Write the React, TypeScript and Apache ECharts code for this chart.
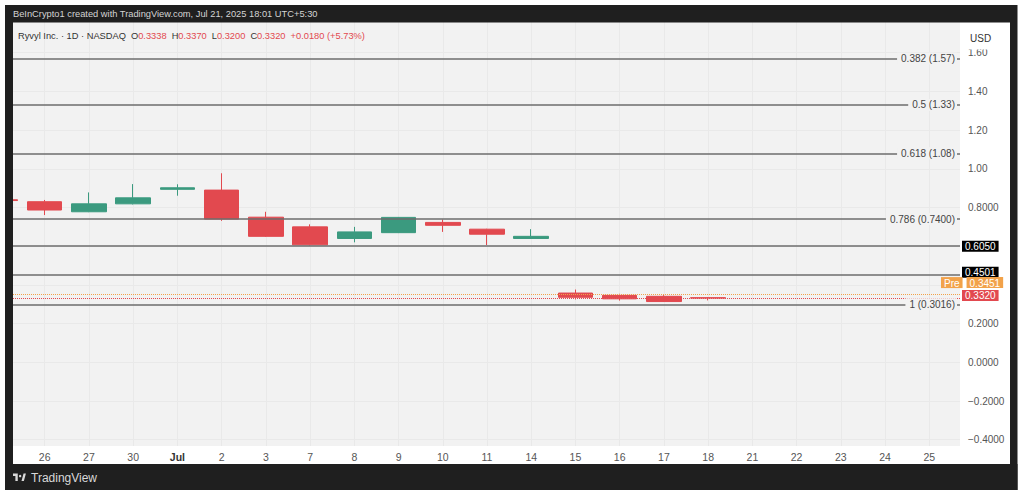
import React, { useEffect, useRef } from 'react';
import * as echarts from 'echarts';

// ---- data ----
const dates = ['2025-06-25', '2025-06-26', '2025-06-27', '2025-06-30', '2025-07-01', '2025-07-02', '2025-07-03', '2025-07-07', '2025-07-08', '2025-07-09', '2025-07-10', '2025-07-11', '2025-07-14', '2025-07-15', '2025-07-16', '2025-07-17', '2025-07-18', '2025-07-21', '2025-07-22', '2025-07-23', '2025-07-24', '2025-07-25'];
const tickLabels = ['25', '26', '27', '30', 'Jul', '2', '3', '7', '8', '9', '10', '11', '14', '15', '16', '17', '18', '21', '22', '23', '24', '25'];
const opens = [0.840, 0.830, 0.778, 0.819, 0.894, 0.890, 0.750, 0.700, 0.640, 0.670, 0.723, 0.688, 0.640, 0.358, 0.346, 0.341, 0.3338];
const closes = [0.836, 0.787, 0.819, 0.850, 0.902, 0.740, 0.651, 0.607, 0.674, 0.749, 0.708, 0.662, 0.651, 0.336, 0.328, 0.314, 0.3320];
const lows = [0.830, 0.761, 0.776, 0.816, 0.861, 0.731, 0.648, 0.604, 0.620, 0.668, 0.674, 0.606, 0.638, 0.325, 0.319, 0.312, 0.3200];
const highs = [0.845, 0.839, 0.878, 0.921, 0.920, 0.977, 0.778, 0.713, 0.700, 0.751, 0.738, 0.690, 0.688, 0.376, 0.354, 0.347, 0.3370];

const fibRatios = ['0.382', '0.5', '0.618', '0.786', '1'];
const fibPrices = [1.57, 1.33, 1.08, 0.74, 0.3016];
const fibPriceLabels = ['1.57', '1.33', '1.08', '0.7400', '0.3016'];
const levelPrices = [0.605, 0.4501];
const levelLabels = ['0.6050', '0.4501'];
const prePrice = 0.3451;
const prePriceLabel = '0.3451';
const lastPrice = 0.332;
const lastPriceLabel = '0.3320';

const yTickValues = [-0.4, -0.2, 0, 0.2, 0.4, 0.6, 0.8, 1.0, 1.2, 1.4, 1.6];
const yLabelValues = [-0.4, -0.2, 0, 0.2, 0.8, 1.0, 1.2, 1.4, 1.6];
const xTickValues = dates.map((_, i) => i).filter((i) => i > 0);

const headerText = 'BeInCrypto1 created with TradingView.com, Jul 21, 2025 18:01 UTC+5:30';
const symbolText = 'Ryvyl Inc. · 1D · NASDAQ';
const ohlc = { O: '0.3338', H: '0.3370', L: '0.3200', C: '0.3320' };
const changeText = '+0.0180 (+5.73%)';

// ---- styles ----
const FONT = '"Liberation Sans", Arial, sans-serif';
const RED = '#e2494f';
const GREEN = '#3b9a7f';
const ORANGE = '#f2a24a';
const FRAME = '#1f1f1f';
const PLOT_BG = '#f2f2f2';
const FIB_LINE = { color: '#6d6d6d', width: 1.5, type: 'solid' as const };

const logoPath = 'M0 0H14V22H7V7H0Z M21 4a3.5 3.5 0 1 1 -0.01 0Z M25 22L31 0H38L32 22Z';

function fmtPrice(v: number): string {
  const a = Math.abs(v);
  const s = a >= 1 - 1e-9 ? a.toFixed(2) : a.toFixed(4);
  return v < -1e-9 ? '\u2212' + s : s;
}

function badge(bg: string, color = '#fff') {
  return { backgroundColor: bg, color, fontSize: 10, fontFamily: FONT, padding: [1, 3, 0, 3], lineHeight: 11 };
}

let logoRegistered = false;

export default function App() {
  const ref = useRef<HTMLDivElement>(null);

  useEffect(() => {
    if (!ref.current) return;
    if (!logoRegistered) {
      echarts.graphic.registerShape('tvlogo', echarts.graphic.extendPath(logoPath, {}) as any);
      logoRegistered = true;
    }
    const chart = echarts.init(ref.current, undefined, { renderer: 'svg' });

    const candleData = opens.map((o, i) => [i, o, closes[i], lows[i], highs[i]]);

    const markData: any[] = [];
    fibPrices.forEach((p, i) => {
      markData.push({
        yAxis: p,
        lineStyle: FIB_LINE,
        label: {
          show: true,
          position: 'insideEnd',
          distance: 3,
          formatter: () => `${fibRatios[i]} (${fibPriceLabels[i]})`,
          color: '#444',
          fontSize: 10,
          fontFamily: FONT,
          backgroundColor: PLOT_BG,
          padding: [1, 2, 1, 4],
        },
      });
    });
    levelPrices.forEach((p, i) => {
      markData.push({
        yAxis: p,
        lineStyle: FIB_LINE,
        label: {
          show: true,
          position: 'end',
          distance: 2,
          formatter: () => (i === 0 ? `{b|${levelLabels[i]}}` : `{b|${levelLabels[i]}}\n{g| }`),
          rich: { b: badge('#000'), g: { height: 6, fontSize: 1 } },
        },
      });
    });
    markData.push({
      yAxis: prePrice,
      lineStyle: { color: ORANGE, width: 1, type: 'dotted' },
      label: {
        show: true,
        position: 'end',
        distance: -19,
        formatter: () => `{p|Pre}{s| }{o|${prePriceLabel}}\n{g| }`,
        rich: {
          p: { ...badge(ORANGE), padding: [1, 3, 0, 3] },
          s: { width: 4, fontSize: 1 },
          o: badge(ORANGE),
          g: { height: 24, fontSize: 1 },
        },
      },
    });
    markData.push({
      yAxis: lastPrice,
      lineStyle: { color: RED, width: 1, type: 'dotted' },
      label: {
        show: true,
        position: 'end',
        distance: 2,
        formatter: () => `{r|${lastPriceLabel}}\n{g| }`,
        rich: { r: badge(RED), g: { height: 6, fontSize: 1 } },
      },
    });

    const option: any = {
      animation: false,
      backgroundColor: '#ffffff',
      textStyle: { fontFamily: FONT },
      grid: {
        left: 13,
        top: 22,
        width: 947,
        height: 424,
        show: true,
        backgroundColor: PLOT_BG,
        borderWidth: 0,
        containLabel: false,
        outerBoundsMode: 'none',
      },
      xAxis: {
        type: 'value',
        min: 0.283,
        max: 21.694,
        axisLine: { show: false },
        axisTick: { show: false, customValues: xTickValues },
        splitLine: { show: true, lineStyle: { color: '#e9e9e9', width: 1 } },
        axisLabel: {
          customValues: xTickValues,
          margin: 5,
          color: '#555',
          fontSize: 10.5,
          fontFamily: FONT,
          formatter: (v: number) => {
            const t = tickLabels[Math.round(v)] ?? '';
            return t === 'Jul' ? `{j|${t}}` : t;
          },
          rich: { j: { fontWeight: 'bold', color: '#333', fontSize: 10.5, fontFamily: FONT } },
        },
      },
      yAxis: {
        type: 'value',
        position: 'right',
        min: -0.4325,
        max: 1.7587,
        axisLine: { show: false },
        axisTick: { show: false, customValues: yTickValues },
        splitLine: { show: true, lineStyle: { color: '#e9e9e9', width: 1 } },
        axisLabel: {
          customValues: yLabelValues,
          margin: 8,
          color: '#555',
          fontSize: 10,
          fontFamily: FONT,
          formatter: (v: number) => fmtPrice(v),
        },
      },
      series: [
        {
          type: 'candlestick',
          clip: true,
          barWidth: 35,
          encode: { x: 0, y: [1, 2, 3, 4] },
          data: candleData,
          itemStyle: {
            color: GREEN,
            color0: RED,
            borderColor: GREEN,
            borderColor0: RED,
            borderWidth: 1,
          },
          markLine: {
            silent: true,
            symbol: ['none', 'none'],
            animation: false,
            data: markData,
          },
        },
      ],
      graphic: [
        { type: 'rect', z: 100, shape: { x: 0, y: 0, width: 5, height: 498 }, style: { fill: '#ffffff' } },
        { type: 'rect', z: 100, shape: { x: 5, y: 5, width: 1012, height: 17.5 }, style: { fill: FRAME } },
        { type: 'rect', z: 100, shape: { x: 5, y: 5, width: 8, height: 485 }, style: { fill: FRAME } },
        { type: 'rect', z: 100, shape: { x: 1010, y: 5, width: 7.5, height: 485 }, style: { fill: FRAME } },
        { type: 'rect', z: 100, shape: { x: 5, y: 464, width: 1012.5, height: 26 }, style: { fill: FRAME } },
        {
          type: 'text', z: 101, x: 13, y: 14,
          style: { text: headerText, fill: '#d4d4d4', font: `9.3px ${FONT}`, verticalAlign: 'middle' },
        },
        {
          type: 'text', z: 101, x: 18, y: 36,
          style: {
            text: `{n|${symbolText}}{s| }{k|O}{v|${ohlc.O}}{s| }{k|H}{v|${ohlc.H}}{s| }{k|L}{v|${ohlc.L}}{s| }{k|C}{v|${ohlc.C}}{s| }{v|${changeText}}`,
            verticalAlign: 'middle',
            rich: {
              n: { fill: '#333', fontSize: 9.3, fontFamily: FONT },
              k: { fill: '#333', fontSize: 9.3, fontFamily: FONT },
              v: { fill: RED, fontSize: 9.3, fontFamily: FONT },
              s: { width: 5, fontSize: 9.3 },
            },
          },
        },
        {
          type: 'text', z: 101, x: 968, y: 38,
          style: {
            text: 'USD', fill: '#333', font: `10px ${FONT}`, verticalAlign: 'middle',
            backgroundColor: '#ffffff', padding: [3, 4, 10, 2],
          },
        },
        {
          type: 'tvlogo', z: 101, x: 13, y: 473.5, scaleX: 0.34, scaleY: 0.34,
          style: { fill: '#d9d9d9' },
        },
        {
          type: 'text', z: 101, x: 31, y: 477.5,
          style: { text: 'TradingView', fill: '#d9d9d9', font: `500 12px ${FONT}`, verticalAlign: 'middle' },
        },
      ],
    };

    chart.setOption(option);
    return () => chart.dispose();
  }, []);

  return (
    <div
      ref={ref}
      style={{ position: 'fixed', left: 0, top: 0, width: 1024, height: 498, background: '#fff' }}
    />
  );
}
